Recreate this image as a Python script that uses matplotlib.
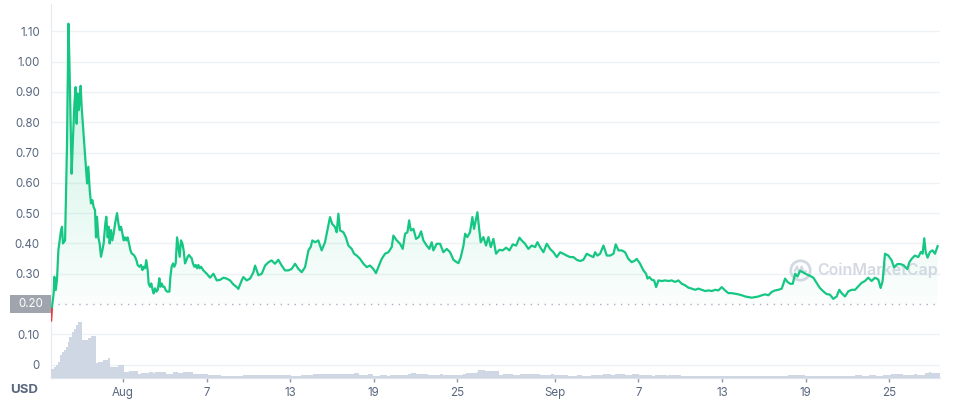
import matplotlib
matplotlib.use("Agg")
import matplotlib.pyplot as plt
import matplotlib.dates as mdates
import matplotlib.transforms as mtransforms
from matplotlib.patches import Rectangle
from matplotlib.path import Path
import numpy as np
import pandas as pd

plt.rcParams['font.family'] = ['Inter', 'DejaVu Sans']

# giorno 0 = 27 luglio
start = pd.Timestamp("2021-07-27")

# prezzo (USD), tempo in giorni dall'inizio
price_t = [
    -0.17, -0.10, 0.02, 0.07, 0.17, 0.26, 0.36, 0.45, 0.55, 0.62,
    0.69, 0.84, 0.91, 0.98, 1.08, 1.15, 1.22, 1.31, 1.41, 1.51,
    1.60, 1.67, 1.75, 1.82, 1.89, 1.96, 2.03, 2.13, 2.22, 2.32,
    2.42, 2.51, 2.61, 2.70, 2.80, 2.89, 2.99, 3.06, 3.13, 3.23,
    3.32, 3.42, 3.52, 3.61, 3.73, 3.80, 3.90, 3.97, 4.04, 4.14,
    4.23, 4.33, 4.43, 4.57, 4.67, 4.76, 4.86, 4.95, 5.05, 5.14,
    5.24, 5.33, 5.43, 5.53, 5.62, 5.77, 5.86, 5.96, 6.05, 6.17,
    6.29, 6.39, 6.48, 6.58, 6.67, 6.77, 6.84, 6.94, 7.03, 7.13,
    7.20, 7.30, 7.39, 7.49, 7.61, 7.68, 7.78, 7.87, 7.97, 8.06,
    8.16, 8.33, 8.40, 8.49, 8.59, 8.68, 8.78, 8.88, 8.97, 9.07,
    9.16, 9.26, 9.35, 9.45, 9.55, 9.64, 9.74, 9.83, 9.93, 10.02,
    10.12, 10.22, 10.31, 10.41, 10.50, 10.60,
    10.77, 11.01, 11.25, 11.49, 11.73, 11.97, 12.21, 12.44, 12.68, 12.92,
    13.16, 13.28, 13.52, 13.64, 13.88, 14.12, 14.36, 14.48, 14.72, 14.96,
    15.20, 15.44, 15.67, 15.91, 16.15, 16.39, 16.63, 16.87, 17.11, 17.35,
    17.59, 17.83, 18.07, 18.31, 18.47, 18.59, 18.79, 19.02, 19.26, 19.50,
    19.67, 19.86, 20.01, 20.22, 20.34, 20.46, 20.58, 20.82, 20.99, 21.18,
    21.42, 21.59, 21.78, 22.02, 22.26, 22.49, 22.73, 22.97, 23.16, 23.33,
    23.57, 23.81, 24.05, 24.29, 24.41, 24.65, 24.89,
    25.08, 25.25, 25.42, 25.54, 25.66, 25.85, 26.04, 26.23, 26.40, 26.56,
    26.80, 26.99, 27.16, 27.28, 27.52, 27.76, 28.00, 28.24, 28.48, 28.72,
    28.96, 29.08, 29.25, 29.44, 29.56, 29.72, 29.91, 30.08, 30.20, 30.44,
    30.58, 30.68, 30.87, 31.06, 31.23, 31.40, 31.59, 31.78, 32.02, 32.26,
    32.50, 32.74, 32.98, 33.22, 33.46, 33.62, 33.86, 34.10, 34.34, 34.58,
    34.75, 34.94, 35.18, 35.42, 35.66, 35.90, 36.14, 36.38, 36.61, 36.85,
    37.09, 37.33, 37.57, 37.81, 38.05, 38.29, 38.53, 38.77, 38.89, 39.06,
    39.25,
    39.49, 39.73, 39.97, 40.21, 40.37, 40.57, 40.81, 41.04, 41.28, 41.52,
    41.76, 41.88, 42.12, 42.36, 42.55, 42.65, 42.79, 42.96, 43.13, 43.27,
    43.44, 43.68, 43.92, 44.16, 44.39, 44.63, 44.87, 45.11, 45.35, 45.59,
    45.83, 46.07, 46.31, 46.55, 46.79, 47.03, 47.27, 47.51, 47.74, 47.98,
    48.22, 48.46, 48.70, 48.94, 49.18, 49.42, 49.66, 49.90, 50.14, 50.38,
    50.62, 50.86, 51.09, 51.33, 51.57, 51.81, 52.05, 52.29, 52.53, 52.70,
    52.89, 53.08, 53.25, 53.42,
    53.60, 53.84, 54.08, 54.32, 54.56, 54.79, 55.03, 55.27, 55.51, 55.75,
    55.99, 56.23, 56.42, 56.59, 56.83, 57.07, 57.31, 57.55, 57.79, 58.02,
    58.26, 58.50, 58.74, 58.98, 59.22, 59.39, 59.53, 59.70, 59.94, 60.18,
    60.35, 60.59, 60.82, 61.06, 61.30, 61.45, 61.61, 61.85, 62.09, 62.28,
    62.40, 62.52, 62.62, 62.76, 62.93, 63.12, 63.29, 63.48,
]
price = [
    0.142, 0.19, 0.235, 0.29, 0.246, 0.28, 0.378, 0.41, 0.444, 0.455,
    0.40, 0.41, 0.576, 0.73, 1.125, 1.005, 0.84, 0.63, 0.75, 0.86,
    0.916, 0.795, 0.895, 0.84, 0.873, 0.92, 0.85, 0.785, 0.73, 0.664,
    0.598, 0.653, 0.576, 0.532, 0.543, 0.52, 0.51, 0.42, 0.488, 0.42,
    0.40, 0.356, 0.378, 0.40, 0.466, 0.488, 0.42, 0.455, 0.40, 0.444,
    0.41, 0.433, 0.466, 0.50, 0.466, 0.444, 0.455, 0.433, 0.41, 0.42,
    0.41, 0.42, 0.40, 0.378, 0.367, 0.362, 0.356, 0.345, 0.329, 0.323,
    0.329, 0.312, 0.323, 0.318, 0.345, 0.312, 0.268, 0.257, 0.268, 0.246,
    0.235, 0.252, 0.241, 0.246, 0.285, 0.257, 0.268, 0.257, 0.257, 0.246,
    0.241, 0.241, 0.29, 0.323, 0.334, 0.323, 0.334, 0.42, 0.389, 0.356,
    0.41, 0.40, 0.378, 0.334, 0.345, 0.356, 0.362, 0.356, 0.351, 0.334,
    0.323, 0.329, 0.318, 0.329, 0.318, 0.323,
    0.311, 0.30, 0.287, 0.30, 0.278, 0.28, 0.287, 0.284, 0.278, 0.265,
    0.256, 0.25, 0.278, 0.289, 0.278, 0.284, 0.305, 0.327, 0.295, 0.30,
    0.327, 0.338, 0.344, 0.333, 0.346, 0.327, 0.311, 0.311, 0.316, 0.333,
    0.316, 0.305, 0.322, 0.377, 0.388, 0.41, 0.404, 0.41, 0.377, 0.404,
    0.443, 0.487, 0.465, 0.454, 0.437, 0.498, 0.443, 0.437, 0.421, 0.393,
    0.382, 0.366, 0.36, 0.349, 0.333, 0.322, 0.327, 0.316, 0.302, 0.322,
    0.349, 0.366, 0.371, 0.388, 0.426, 0.41, 0.399,
    0.382, 0.432, 0.437, 0.476, 0.443, 0.448, 0.415, 0.421, 0.44, 0.41,
    0.393, 0.382, 0.404, 0.377, 0.399, 0.399, 0.371, 0.382, 0.371, 0.346,
    0.338, 0.335, 0.355, 0.393, 0.432, 0.421, 0.437, 0.487, 0.448, 0.503,
    0.443, 0.404, 0.421, 0.393, 0.421, 0.388, 0.415, 0.366, 0.379, 0.377,
    0.386, 0.377, 0.397, 0.393, 0.419, 0.41, 0.399, 0.382, 0.393, 0.388,
    0.404, 0.388, 0.371, 0.399, 0.382, 0.371, 0.355, 0.371, 0.366, 0.36,
    0.355, 0.355, 0.346, 0.342, 0.346, 0.366, 0.36, 0.355, 0.371, 0.36,
    0.366,
    0.393, 0.36, 0.36, 0.366, 0.397, 0.377, 0.377, 0.371, 0.349, 0.338,
    0.344, 0.349, 0.333, 0.311, 0.30, 0.284, 0.289, 0.28, 0.278, 0.256,
    0.278, 0.276, 0.278, 0.276, 0.278, 0.273, 0.278, 0.267, 0.262, 0.254,
    0.251, 0.247, 0.251, 0.247, 0.243, 0.245, 0.243, 0.247, 0.245, 0.256,
    0.245, 0.236, 0.236, 0.234, 0.232, 0.229, 0.225, 0.223, 0.221, 0.223,
    0.225, 0.229, 0.232, 0.229, 0.24, 0.245, 0.247, 0.251, 0.284, 0.273,
    0.267, 0.267, 0.30, 0.291,
    0.31, 0.304, 0.298, 0.293, 0.287, 0.27, 0.253, 0.242, 0.233, 0.231,
    0.217, 0.225, 0.247, 0.236, 0.225, 0.242, 0.247, 0.247, 0.259, 0.27,
    0.276, 0.287, 0.276, 0.287, 0.281, 0.253, 0.276, 0.366, 0.36, 0.344,
    0.321, 0.332, 0.332, 0.327, 0.315, 0.338, 0.349, 0.36, 0.355, 0.372,
    0.366, 0.417, 0.372, 0.353, 0.372, 0.377, 0.366, 0.391,
]

# volume (relativo al massimo = 100), inizio di ogni gradino in giorni
vol_t = [
    -0.17, 0.02, 0.19, 0.36, 0.50, 0.60, 0.74, 0.91, 1.03, 1.15,
    1.31, 1.46, 1.63, 1.79, 2.06, 2.22, 2.46, 2.70, 3.06, 3.18,
    3.54, 3.90, 4.09, 4.62, 5.05, 5.45, 6.10, 6.29, 6.89, 7.13,
    7.30, 8.09, 8.57, 8.92, 9.28, 10.00, 11.08, 12.03, 13.59, 14.43,
    15.15, 17.06, 17.78, 18.62, 19.69,
    21.24, 21.56, 21.92, 22.60, 22.93, 23.47, 23.96, 24.18, 25.47, 25.68,
    26.01, 26.91, 27.78, 28.00, 29.42, 29.64, 30.38, 30.51, 30.98, 32.01,
    32.29, 33.02, 33.51, 34.93, 35.75, 35.97, 36.93, 37.61, 37.96, 38.56,
    39.46, 40.01, 40.34, 41.02, 41.56, 42.03, 43.01, 43.20, 44.02, 44.10,
    45.03, 52.75, 53.98, 57.53, 58.02, 58.56, 59.03, 59.57, 60.12, 61.02,
    61.75, 62.03, 62.57, 62.84, 63.03,
]
vol = [
    15.5, 19.6, 22.6, 28.6, 40.5, 46.4, 49.4, 55.4, 64.3, 73.2,
    82.1, 88.1, 94.0, 100, 67.3, 68.5, 71.4, 74.4, 26.8, 28.6,
    31.5, 35.7, 18.5, 22.6, 10.7, 11.9, 7.1, 8.9, 10.7, 8.3,
    10.1, 7.1, 9.5, 7.7, 10.1, 6.5, 4.8, 3.0, 4.2, 4.8,
    4.2, 3.0, 4.2, 6.0, 6.5,
    6.5, 8.9, 5.4, 7.1, 3.6, 5.4, 3.6, 5.4, 7.1, 8.3,
    7.1, 5.4, 7.1, 5.4, 7.1, 8.9, 10.7, 14.3, 12.5, 5.4,
    7.1, 5.4, 7.1, 5.4, 7.1, 5.4, 3.6, 5.4, 3.6, 5.4,
    7.1, 5.4, 7.1, 5.4, 7.1, 5.4, 3.6, 5.4, 3.6, 5.4,
    3.6, 5.4, 3.6, 5.4, 3.6, 5.4, 3.6, 5.4, 7.1, 5.4,
    7.1, 5.4, 8.9, 10.7, 8.9,
]

baseline = 0.20
y_ticks = [0, 0.10, 0.30, 0.40, 0.50, 0.60, 0.70, 0.80, 0.90, 1.00, 1.10]
x_ticks = ["2021-08-01", "2021-08-07", "2021-08-13", "2021-08-19", "2021-08-25",
           "2021-09-01", "2021-09-07", "2021-09-13", "2021-09-19", "2021-09-25"]
x_labels = ["Aug", "7", "13", "19", "25", "Sep", "7", "13", "19", "25"]

green = '#16c784'
red = '#ea3943'
grey_txt = '#58667e'
grid_col = '#eff2f5'
wm_col = '#c9d0dc'

x = mdates.date2num(start + pd.to_timedelta(price_t, unit='D'))
xv = mdates.date2num(start + pd.to_timedelta(vol_t, unit='D'))
p = np.array(price)
x_left = x[0]
x_right = mdates.date2num(start + pd.Timedelta(days=63.65))

fig = plt.figure(figsize=(9.62, 4.03), dpi=100)
ax = fig.add_axes([51 / 962, 1 - 377.7 / 403, 889 / 962, 373.7 / 403])

# griglia orizzontale
for yv in y_ticks:
    ax.axhline(yv, color=grid_col, lw=1, zorder=0)
ax.axhline(baseline, color='#a6b0c3', lw=1, ls=(0, (1, 4)), zorder=1)

# riempimento sfumato sotto la linea
poly = ax.fill_between(x, p, baseline, color='none', lw=0)
grad = np.zeros((256, 1, 4))
rgb = matplotlib.colors.to_rgb(green)
grad[:, 0, 0] = rgb[0]
grad[:, 0, 1] = rgb[1]
grad[:, 0, 2] = rgb[2]
grad[:, 0, 3] = np.linspace(0.02, 0.26, 256)
im = ax.imshow(grad, extent=[x_left, x_right, baseline, 1.15], aspect='auto',
               origin='lower', zorder=1)
im.set_clip_path(poly.get_paths()[0], transform=ax.transData)

# linea del prezzo
ax.plot(x[:2], p[:2], color=red, lw=1.7, zorder=3, solid_capstyle='butt')
ax.plot(x[1:], p[1:], color=green, lw=1.6, zorder=3, solid_joinstyle='round')

ax.set_xlim(x_left, x_right)
ax.set_ylim(-0.043, 1.19)

ax.set_yticks(y_ticks)
ax.set_yticklabels(['0' if v == 0 else f'{v:.2f}' for v in y_ticks])
ax.tick_params(axis='y', length=0, pad=8, labelsize=8.3, labelcolor=grey_txt)

ax.set_xticks(mdates.date2num(pd.to_datetime(x_ticks)))
ax.set_xticklabels(x_labels)
ax.tick_params(axis='x', length=3, width=1, color='#8e99ab', pad=4,
               labelsize=8.3, labelcolor=grey_txt)

for s in ['top', 'right']:
    ax.spines[s].set_visible(False)
ax.spines['left'].set_color('#e6e9ef')
ax.spines['bottom'].set_color('#dfe3ea')

# etichetta 0.20 evidenziata
trans = mtransforms.blended_transform_factory(ax.transAxes, ax.transData)
ax.add_patch(Rectangle((-0.046, baseline - 0.03), 0.046, 0.06, transform=trans,
                       facecolor='#9fa4ad', edgecolor='none', clip_on=False, zorder=5))
ax.text(-0.023, baseline, '0.20', transform=trans, ha='center', va='center',
        color='white', fontsize=8.3, zorder=6)

# volume
ax2 = ax.twinx()
edges = np.append(xv, x_right)
ax2.stairs(vol, edges, fill=True, color='#cfd6e4', lw=0)
ax2.set_ylim(0, 671)
ax2.set_xlim(x_left, x_right)
ax2.axis('off')

# USD
fig.text(24 / 962, 1 - 390 / 403, 'USD', ha='center', va='center',
         color=grey_txt, fontsize=9.5, fontweight='bold')

# filigrana CoinMarketCap
ax.plot([0.843], [0.288], 'o', ms=14, mfc='none', mec=wm_col, mew=2,
        alpha=0.8, transform=ax.transAxes, zorder=2)
onda = Path([(-0.55, -0.1), (-0.3, 0.35), (-0.1, -0.25), (0.1, 0.35),
             (0.3, -0.2), (0.55, 0.0)],
            [Path.MOVETO] + [Path.LINETO] * 5)
ax.plot([0.843], [0.288], marker=onda, ms=9, mfc='none', mec=wm_col, mew=1.6,
        alpha=0.8, transform=ax.transAxes, zorder=2)
ax.text(0.862, 0.288, 'CoinMarketCap', transform=ax.transAxes, ha='left',
        va='center', color=wm_col, alpha=0.8, fontsize=11.5,
        fontweight='semibold', zorder=2)

fig.savefig('out.png', dpi=100)
